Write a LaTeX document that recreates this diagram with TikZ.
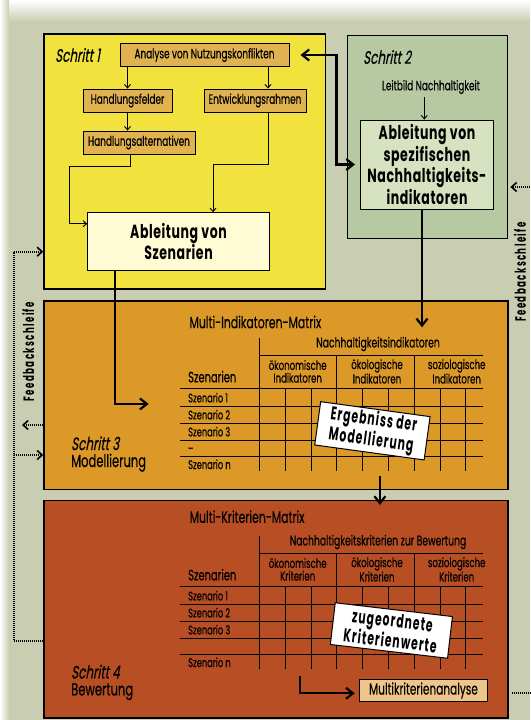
\documentclass[tikz,border=0pt]{standalone}
\usepackage{fontspec}
\setmainfont{Poppins}[FakeStretch=0.66,FakeBold=0.3]
\newfontfamily\slfont{Poppins}[FakeStretch=0.66,FakeSlant=0.18,FakeBold=0.3]
\newfontfamily\bfam{Poppins}[FakeStretch=0.66,LetterSpace=3]
\newfontfamily\rfam{Poppins}[FakeStretch=0.58,LetterSpace=9]
\newfontfamily\gfam{Poppins}[FakeStretch=0.58,LetterSpace=6]
\usetikzlibrary{arrows.meta,calc}
\definecolor{bgc}{RGB}{201,205,177}
\definecolor{yel}{RGB}{241,226,62}
\definecolor{grn}{RGB}{183,201,162}
\definecolor{lgrn}{RGB}{214,226,192}
\definecolor{org}{RGB}{220,153,40}
\definecolor{rust}{RGB}{184,78,36}
\definecolor{tanc}{RGB}{224,178,80}
\definecolor{cream}{RGB}{255,251,212}
\definecolor{mkac}{RGB}{238,197,138}
\tikzset{
  stepbox/.style={draw=black,line width=1.4pt,inner sep=0pt,anchor=north west},
  tanbox/.style={draw=black,line width=0.9pt,fill=tanc,inner sep=0pt,minimum height=23pt,font=\fontsize{13.5}{15}\selectfont},
  arrthin/.style={line width=0.9pt,-{Straight Barb[length=3.5pt,width=6pt]}},
  arrthick/.style={line width=2.2pt,-{Straight Barb[length=7pt,width=11pt]}},
  arrboth/.style={line width=2.2pt,{Straight Barb[length=7pt,width=11pt]}-{Straight Barb[length=7pt,width=11pt]}},
  fbline/.style={line width=1.8pt,dash pattern=on 1pt off 1pt},
  fbarr/.style={fbline,-{Straight Barb[length=5pt,width=9pt,line width=1.6pt]}},
  gridl/.style={line width=0.9pt},
  hdr/.style={inner sep=0pt,font=\fontsize{14}{15}\selectfont},
  subh/.style={inner sep=0pt,align=center,font=\fontsize{13}{12.7}\selectfont},
  szh/.style={inner sep=0pt,anchor=west,font=\fontsize{15}{16}\selectfont},
  rowl/.style={inner sep=0pt,anchor=west,font=\fontsize{12.5}{13}\selectfont},
  steplab/.style={inner sep=0pt,anchor=west,font=\slfont\fontsize{18}{19}\selectfont},
  stepsub/.style={inner sep=0pt,anchor=west,font=\fontsize{17.5}{18}\selectfont},
  mtitle/.style={inner sep=0pt,anchor=west,font=\fontsize{16.5}{17}\selectfont},
  rotbox/.style={draw=black,line width=1pt,fill=white,inner sep=0pt,align=center,font=\gfam\bfseries\fontsize{18.5}{20.5}\selectfont},
  fbtext/.style={rotate=90,inner sep=0pt,font=\rfam\bfseries\fontsize{15}{15}\selectfont},
}
\newcommand{\mgrid}[5]{%
  \begin{scope}[shift={(0,#1)}]
    \draw[gridl] (259.3,338.3) -- (259.3,470.5);
    \draw[gridl] (259.3,355) -- (483,355);
    \draw[gridl] (180,388.3) -- (483,388.3);
    \foreach \yy in {406,423.3,440,456.7}{\draw[gridl] (180,\yy) -- (483,\yy);}
    \foreach \xx in {336.7,414.3}{\draw[gridl] (\xx,355) -- (\xx,470.5);}
    \foreach \xx in {285.7,311.7,362.7,388,440.7,465.7}{\draw[gridl] (\xx,388.3) -- (\xx,470.5);}
    \node[hdr] (#2hd) at (378,344) {#3};
    \node[subh] (#2ga) at (297.7,371.4) {ökonomische\\#4};
    \node[subh] (#2gb) at (377,371.4) {ökologische\\#4};
    \node[subh] (#2gc) at (456.7,371.4) {soziologische\\#4};
    \node[szh] (#2sz) at (188,376.7) {Szenarien};
    \node[rowl] (#2ra) at (188,397.7) {Szenario 1};
    \node[rowl] (#2rb) at (188,414.7) {Szenario 2};
    \node[rowl] (#2rc) at (188,431.7) {Szenario 3};
    \node[rowl] (#2rd) at (188,448.3) {#5};
    \node[rowl] (#2re) at (188,464.3) {Szenario n};
  \end{scope}}
\begin{document}
\begin{tikzpicture}[x=1pt,y=-1pt]
\useasboundingbox (0,0) rectangle (530,720);
\fill[bgc] (0,0) rectangle (530,720);
\shade[top color=white,bottom color=bgc] (0,0) rectangle (530,22);
\shade[left color=white,right color=bgc] (0,0) rectangle (9,720);

% ---------- Schritt 1
\node[stepbox,fill=yel,minimum width=281.7pt,minimum height=255pt] (s1) at (43.3,33.3) {};
\node[steplab] (t1) at (55,55) {Schritt 1};
\node[tanbox,minimum width=169pt] (ana) at (204.5,55) {Analyse von Nutzungskonflikten};
\node[tanbox,minimum width=89pt] (hf) at (127.5,100.5) {Handlungsfelder};
\node[tanbox,minimum width=102pt] (er) at (255,100.5) {Entwicklungsrahmen};
\node[tanbox,minimum width=112pt] (ha) at (139,142.5) {Handlungsalternativen};
\node[draw=black,line width=0.9pt,fill=cream,minimum width=181.6pt,minimum height=58pt,inner sep=0pt,align=center,font=\bfam\bfseries\fontsize{19}{21}\selectfont] (abl) at (178.5,241.7) {Ableitung von\\Szenarien};

\draw[arrthin] (hf.north |- ana.south) -- (hf.north);
\draw[arrthin] ([xshift=13pt]er.north |- ana.south) -- ([xshift=13pt]er.north);
\draw[arrthin] (hf.south) -- (hf.south |- ha.north);
\draw[arrthin] ([xshift=-9pt]ha.south) -- ++(0,12) -| ([xshift=-18pt,yshift=18pt]abl.west) -- ([yshift=18pt]abl.west);
\draw[arrthin] ([xshift=13pt]er.south) -- ++(0,52) -| ([xshift=34.5pt]abl.north);

% ---------- Schritt 2
\node[stepbox,fill=grn,minimum width=160pt,minimum height=203pt] (s2) at (347,35) {};
\node[steplab] (t2) at (363,57) {Schritt 2};
\node[inner sep=0pt,font=\fontsize{13.5}{14}\selectfont] (leit) at (431,87) {Leitbild Nachhaltigkeit};
\node[draw=black,line width=0.9pt,fill=lgrn,minimum width=132.7pt,minimum height=89pt,inner sep=0pt,align=center,font=\bfam\bfseries\fontsize{19}{18.7}\selectfont] (ind) at (427,164.5) {Ableitung von\\spezifischen\\Nachhaltigkeits-\\indikatoren};
\draw[arrthin] ([xshift=-2.7pt,yshift=-3pt]ind.north |- leit.south) -- ([xshift=-2.7pt]ind.north);

\draw[arrboth] ([xshift=11pt]ana.east) -- ++(36,0) |- ([xshift=8pt]s2.west |- ind.west);

% ---------- Schritt 3
\node[stepbox,fill=org,minimum width=463.8pt,minimum height=188.3pt] (s3) at (43.3,300.3) {};
\node[mtitle] (m3) at (189.3,322) {Multi-Indikatoren-Matrix};
\node[steplab] (t3) at (71,443.3) {Schritt 3};
\node[stepsub] (t3b) at (71,462.7) {Modellierung};
\mgrid{0}{a}{Nachhaltigkeitsindikatoren}{Indikatoren}{\dots}
\node[rotbox,rotate=-7.8,minimum width=110.4pt,minimum height=43.7pt] (erg) at (372.4,430.8) {Ergebniss der\\Modellierung};

% ---------- Schritt 4
\node[stepbox,fill=rust,minimum width=463.8pt,minimum height=217.3pt] (s4) at (43.3,500) {};
\node[mtitle] (m4) at (189.5,516.7) {Multi-Kriterien-Matrix};
\node[steplab] (t4) at (71,671.7) {Schritt 4};
\node[stepsub] (t4b) at (71,691.7) {Bewertung};
\mgrid{198}{b}{Nachhaltigkeitskriterien zur Bewertung}{Kriterien}{}
\node[rotbox,rotate=-6.7,minimum width=118pt,minimum height=42pt] (zug) at (391.4,630.5) {zugeordnete\\Kriterienwerte};
\node[draw=black,line width=0.9pt,fill=mkac,minimum width=128.6pt,minimum height=22.4pt,inner sep=0pt,font=\fontsize{16}{17}\selectfont] (mka) at (423.5,690.5) {Multikriterienanalyse};
\draw[arrthick] ([xshift=-58.5pt,yshift=14.5pt]mka.west) |- ([xshift=-4pt,yshift=-2.8pt]mka.west);

% ---------- main flow
\draw[arrthick] ([xshift=28pt]abl.south west) |- ([xshift=105.4pt,yshift=-8.8pt]s3.west);
\draw[arrthick] ([xshift=-5pt]ind.south) -- ([xshift=-5pt,yshift=-27pt]ind.south |- s3.north);
\draw[arrthick] ([xshift=104pt,yshift=13.6pt]s3.south) -- ([xshift=104pt,yshift=-5pt]s4.north);

% ---------- feedback loops
\coordinate (fa) at (14.2,251.7);
\coordinate (fb) at (22,425);
\coordinate (fc) at (14.2,455);
\coordinate (fd) at (14.2,641);
\coordinate (fe) at (530,187);
\coordinate (ff) at (530,693);
\draw[fbarr] (fa) -- (fa -| s1.west);
\draw[fbarr] (fb -| s3.west) -- (fb);
\draw[fbarr] (fc) -- (fc -| s3.west);
\draw[fbline] (fd -| s4.west) -- (fd) -- (fa);
\draw[fbarr] (fe) -- ([xshift=2pt]fe -| s2.east);
\draw[fbline] ([xshift=3pt]ff -| s4.east) -- (ff);
\node[fbtext] (fbl) at (28.3,351.7) {Feedbackschleife};
\node[fbtext] (fbr) at (520,272) {Feedbackschleife};
\end{tikzpicture}
\end{document}
